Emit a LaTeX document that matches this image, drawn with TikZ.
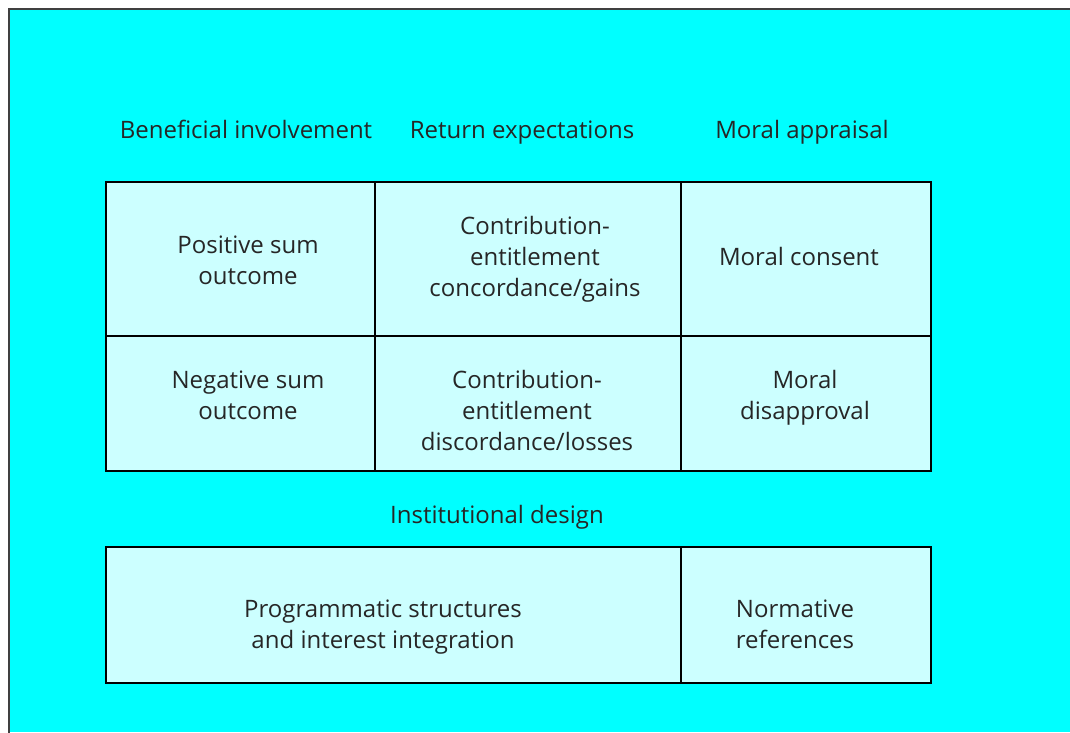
\documentclass[tikz,border=0pt]{standalone}
\usepackage{fontspec}
\setmainfont{Open Sans}
\definecolor{bgcyan}{HTML}{00FFFF}
\definecolor{cellcyan}{HTML}{CCFFFF}
\tikzset{
  cell/.style={draw=black, fill=cellcyan, line width=1.3pt, rectangle,
    inner sep=0pt, anchor=north west},
  txt/.style={align=center, text=black!85, inner sep=0pt,
    font=\fontsize{18}{23.25}\selectfont},
  head/.style={txt, text height=1.5ex, text depth=.3ex},
}
\begin{document}
\begin{tikzpicture}[x=0.75pt,y=-0.75pt]
      \useasboundingbox (0,0) rectangle (1070,732);
      \fill[white] (0,0) rectangle (1070,732);
      \fill[bgcyan] (9,9) rectangle (1070,732);
      \draw[line width=1.5pt, black!75] (9,745) -- (9,9) -- (1085,9);
      % column heads
      \draw
        (246,134) node[head] (benefit){Beneficial involvement}
        (522,134) node[head] (return){Return expectations}
        (802,134) node[head] (moral){Moral appraisal}
        (497,519) node[head] (design){Institutional design};
      % table boxes
      \draw
        (105,181) node[cell, minimum width=201.75pt, minimum height=115.5pt] (pos){}
        (374,181) node[cell, minimum width=229.5pt, minimum height=115.5pt] (gain){}
        (680,181) node[cell, minimum width=187.5pt, minimum height=115.5pt] (consent){}
        (105,335) node[cell, minimum width=201.75pt, minimum height=101.25pt] (neg){}
        (374,335) node[cell, minimum width=229.5pt, minimum height=101.25pt] (loss){}
        (680,335) node[cell, minimum width=187.5pt, minimum height=101.25pt] (disapp){}
        (105,546) node[cell, minimum width=431.25pt, minimum height=102pt] (prog){}
        (680,546) node[cell, minimum width=187.5pt, minimum height=102pt] (norm){};
      % cell texts
      \draw
        (248,260) node[txt] (postxt){Positive sum\\outcome}
        (535,259) node[txt] (gaintxt){Contribution-\\entitlement\\concordance/gains}
        (799,256) node[txt] (consenttxt){Moral consent}
        (248,395) node[txt] (negtxt){Negative sum\\outcome}
        (527,410) node[txt] (losstxt){Contribution-\\entitlement\\discordance/losses}
        (805,398) node[txt] (disapptxt){Moral\\disapproval}
        (383,627) node[txt] (progtxt){Programmatic structures\\and interest integration}
        (795,624) node[txt] (normtxt){Normative\\references};
    \end{tikzpicture}
\end{document}
